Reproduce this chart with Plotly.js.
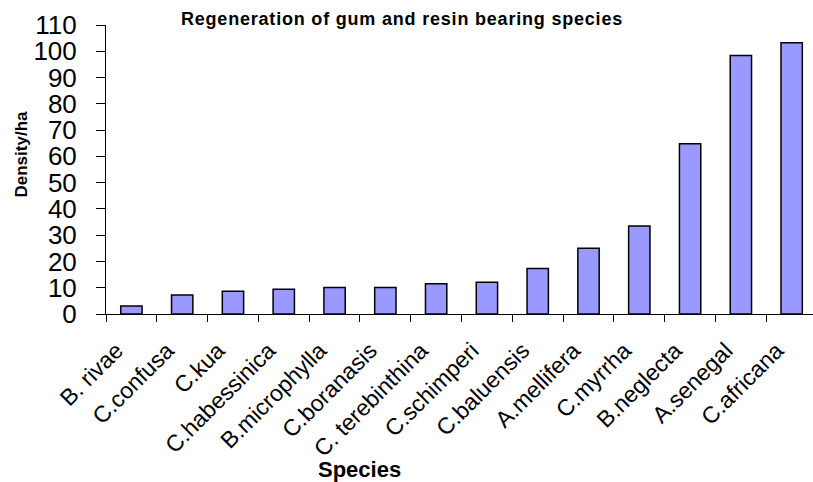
<!DOCTYPE html>
<html>
<head>
<meta charset="utf-8">
<script src="https://cdn.plot.ly/plotly-3.0.1.min.js"></script>
<style>
html,body{margin:0;padding:0;background:#fff}
#chart{width:813px;height:482px}
#chart .gtitle{letter-spacing:0.8px}
</style>
</head>
<body>
<div id="chart"></div>
<script>
const species = ["B. rivae","C.confusa","C.kua","C.habessinica","B.microphylla","C.boranasis","C. terebinthina","C.schimperi","C.baluensis","A.mellifera","C.myrrha","B.neglecta","A.senegal","C.africana"];
const density = [3.0, 7.2, 8.7, 9.4, 10.1, 10.1, 11.5, 12.1, 17.3, 25.0, 33.5, 64.8, 98.4, 103.2];
const yTicks = [0,10,20,30,40,50,60,70,80,90,100,110];

const trace = {
  type: 'bar',
  x: species,
  y: density,
  marker: {color: '#9999FF', line: {color: '#000000', width: 1.5}},
  hoverinfo: 'none'
};

const W = 813, H = 482, L = 106, R = 0, T = 25, B = 168;
const pw = W - L - R, ph = H - T - B;
const px = x => (x - L) / pw;
const py = y => (H - B - y) / ph;

const layout = {
  width: W, height: H,
  margin: {l: L, r: R, t: T, b: B},
  paper_bgcolor: '#ffffff', plot_bgcolor: '#ffffff',
  bargap: 0.58,
  showlegend: false,
  font: {family: 'Arial, "Liberation Sans", sans-serif', color: '#000'},
  title: {text: '<b>Regeneration of gum and resin bearing species</b>', x: 402 / W, xanchor: 'center', y: 1 - 19 / H, yanchor: 'middle', font: {size: 18, color: '#000'}},
  xaxis: {
    type: 'category',
    range: [-0.5, 13.42],
    showline: true, linecolor: '#000', linewidth: 1,
    ticks: 'outside', tickson: 'boundaries', ticklen: 7, tickcolor: '#000', tickwidth: 1,
    tickangle: -45,
    tickfont: {size: 23, color: '#000'},
    ticklabelstandoff: 13,
    ticklabelshift: -15,
    showgrid: false, zeroline: false
  },
  yaxis: {
    range: [0, 110],
    tickvals: yTicks,
    showline: true, linecolor: '#000', linewidth: 1,
    ticks: 'outside', ticklen: 9, tickcolor: '#000', tickwidth: 1,
    tickfont: {size: 26, color: '#000'},
    ticklabelstandoff: 14,
    showgrid: false, zeroline: false
  },
  annotations: [
    {text: '<b>Species</b>', xref: 'paper', yref: 'paper', x: px(359), y: py(469), xanchor: 'center', yanchor: 'middle',
     showarrow: false, font: {size: 22, color: '#000'}},
    {text: '<b>Density/ha</b>', xref: 'paper', yref: 'paper', x: px(20.5), y: py(154), xanchor: 'center', yanchor: 'middle',
     textangle: -90, showarrow: false, font: {size: 17, color: '#000'}}
  ]
};

Plotly.newPlot('chart', [trace], layout, {displayModeBar: false, staticPlot: true});
</script>
</body>
</html>
